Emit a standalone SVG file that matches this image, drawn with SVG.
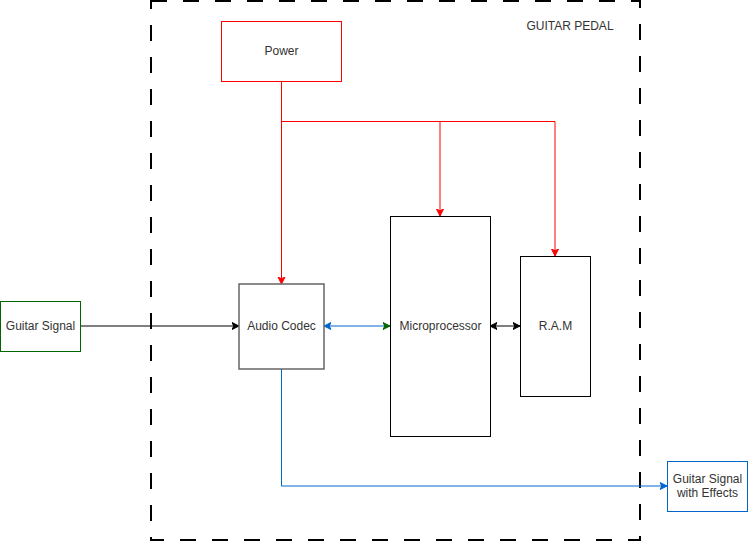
<svg xmlns="http://www.w3.org/2000/svg" width="748" height="542" viewBox="0 0 748 542">
<defs>
<style>
text{font-family:"Liberation Sans",Arial,sans-serif;font-size:12px;fill:#333333;text-anchor:middle}
.box{fill:#ffffff}
.ln{fill:none}
</style>
<marker id="aRed" markerWidth="10" markerHeight="10" refX="7" refY="5" orient="auto" markerUnits="userSpaceOnUse" viewBox="0 0 10 10"><path d="M0,1.5 L7,5 L0,8.5 L1.75,5 Z" fill="#FF0000" stroke="#FF0000"/></marker>
<marker id="aBlk" markerWidth="10" markerHeight="10" refX="7" refY="5" orient="auto" markerUnits="userSpaceOnUse" viewBox="0 0 10 10"><path d="M0,1.5 L7,5 L0,8.5 L1.75,5 Z" fill="#000000" stroke="#000000"/></marker>
<marker id="aBlkS" markerWidth="10" markerHeight="10" refX="7" refY="5" orient="auto-start-reverse" markerUnits="userSpaceOnUse" viewBox="0 0 10 10"><path d="M0,1.5 L7,5 L0,8.5 L1.75,5 Z" fill="#000000" stroke="#000000"/></marker>
<marker id="aBlu" markerWidth="10" markerHeight="10" refX="7" refY="5" orient="auto" markerUnits="userSpaceOnUse" viewBox="0 0 10 10"><path d="M0,1.5 L7,5 L0,8.5 L1.75,5 Z" fill="#0066CC" stroke="#0066CC"/></marker>
<marker id="aBluS" markerWidth="10" markerHeight="10" refX="7" refY="5" orient="auto-start-reverse" markerUnits="userSpaceOnUse" viewBox="0 0 10 10"><path d="M0,1.5 L7,5 L0,8.5 L1.75,5 Z" fill="#0066CC" stroke="#0066CC"/></marker>
<marker id="aGrn" markerWidth="10" markerHeight="10" refX="7" refY="5" orient="auto" markerUnits="userSpaceOnUse" viewBox="0 0 10 10"><path d="M0,1.5 L7,5 L0,8.5 L1.75,5 Z" fill="#006600" stroke="#006600"/></marker>
</defs>
<rect width="748" height="542" fill="#ffffff"/>
<g id="guitar-pedal">
<rect x="151" y="1" width="489" height="539" fill="none" stroke="#000000" stroke-width="2" stroke-dasharray="16 16"/>
<text x="570" y="30">GUITAR PEDAL</text>
</g>
<g id="connectors">
<path class="ln" d="M281.5,81 L281.5,284" stroke="#FF0000" marker-end="url(#aRed)"/>
<path class="ln" d="M281.5,121.5 L440,121.5 L440,216" stroke="#FF0000" marker-end="url(#aRed)"/>
<path class="ln" d="M440,121.5 L555,121.5 L555,256" stroke="#FF0000" marker-end="url(#aRed)"/>
<path class="ln" d="M80,326 L239,326" stroke="#000000" marker-end="url(#aBlk)"/>
<path class="ln" d="M324,326 L390,326" stroke="#0066CC" marker-start="url(#aBluS)" marker-end="url(#aGrn)"/>
<path class="ln" d="M490,326 L520,326" stroke="#000000" marker-start="url(#aBlkS)" marker-end="url(#aBlk)"/>
<path class="ln" d="M281.5,369 L281.5,486 L667,486" stroke="#0066CC" marker-end="url(#aBlu)"/>
</g>
<g id="power">
<rect class="box" x="221.5" y="21.5" width="120" height="60" stroke="#FF0000"/>
<text x="281.5" y="55">Power</text>
</g>
<g id="guitar-signal">
<rect class="box" x="0.5" y="301.5" width="80" height="50" stroke="#006600"/>
<text x="40.5" y="330">Guitar Signal</text>
</g>
<g id="audio-codec">
<rect class="box" x="239" y="284" width="85" height="85" stroke="#666666" stroke-width="1.5"/>
<text x="281.5" y="330">Audio Codec</text>
</g>
<g id="microprocessor">
<rect class="box" x="390.5" y="216.5" width="100" height="220" stroke="#000000"/>
<text x="440.5" y="330">Microprocessor</text>
</g>
<g id="ram">
<rect class="box" x="520.5" y="256.5" width="70" height="140" stroke="#000000"/>
<text x="555.5" y="330">R.A.M</text>
</g>
<g id="guitar-signal-effects">
<rect class="box" x="667.5" y="461.5" width="80" height="50" stroke="#0066CC"/>
<text x="707.5" y="483">Guitar Signal</text>
<text x="707.5" y="497">with Effects</text>
</g>
</svg>
